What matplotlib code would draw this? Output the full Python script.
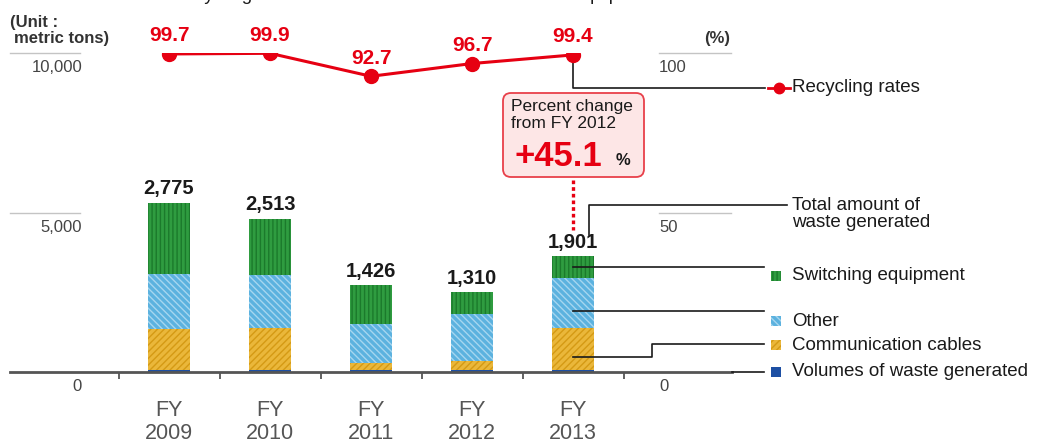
import matplotlib
matplotlib.use("Agg")
import matplotlib.pyplot as plt
from matplotlib.patches import FancyBboxPatch, Rectangle
from matplotlib.transforms import IdentityTransform

plt.rcParams['font.family'] = ['Liberation Sans', 'DejaVu Sans']
plt.rcParams['hatch.linewidth'] = 1.0

# ---- data -------------------------------------------------------------
years = ['2009', '2010', '2011', '2012', '2013']
volumes = [31, 31, 38, 38, 37]            # volumes of waste generated
cables = [682, 687, 112, 140, 678]        # communication cables
other = [899, 874, 641, 768, 826]         # other
switching = [1163, 921, 635, 364, 360]    # switching equipment
totals = [2775, 2513, 1426, 1310, 1901]   # total amount of waste generated (t)
rates = [99.7, 99.9, 92.7, 96.7, 99.4]    # recycling rates (%)
left_ticks = ['0', '5,000', '10,000']
right_ticks = ['0', '50', '100']
change_text = '+45.1'
title = 'Total amounts and recycling rates of removed telecommunications equipment'

# ---- figure layout ----------------------------------------------------
W, H = 1039, 443
fig = plt.figure(figsize=(W / 100, H / 100), dpi=100)
base_px, top_px = 372, 53
left_px, right_px = 10, 732
step = 101.0                 # pixels per category
x0_px = 169                  # first category centre
ax = fig.add_axes([left_px / W, (H - base_px) / H,
                   (right_px - left_px) / W, (base_px - top_px) / H])
ax2 = ax.twinx()

def X(px):
    return (px - x0_px) / step

def Y(py):
    return (base_px - py) / (base_px - top_px) * 100

ax.set_xlim(X(left_px), X(right_px))
YMAX = 5232
ax.set_ylim(0, YMAX)
ax2.set_ylim(0, 100)

def to_pct(t):
    return t * 100 / YMAX

RED = '#e60012'
INK = '#1a1a1a'
GREY = '#555555'

# heading running off the top edge
fig.text(20 / W, 1 - 0.5 / H, title, fontsize=13.5, color=INK,
         ha='left', va='baseline')

# ---- stacked bars -----------------------------------------------------
xs = list(range(len(years)))
bw = 0.42
styles = [
    (volumes, '#1d4fa3', '#1d4fa3', ''),
    (cables, '#eab73a', '#d49a14', '/////'),
    (other, '#5cb2df', '#a6d6ef', '\\\\\\\\\\'),
    (switching, '#2f9c40', '#1b7a2b', '||||'),
]
bottom = [0] * len(years)
for vals, fc, hc, hatch in styles:
    ax.bar(xs, vals, bw, bottom=bottom, color=fc, edgecolor=hc,
           linewidth=0, hatch=hatch, zorder=2)
    bottom = [b + v for b, v in zip(bottom, vals)]

for x, t in zip(xs, totals):
    ax.annotate(f'{t:,}', (x, t), xytext=(0, 6), textcoords='offset points',
                ha='center', va='baseline', fontsize=14.5, fontweight='bold',
                color=INK)

# ---- axes styling -----------------------------------------------------
for s in ['top', 'left', 'right']:
    ax.spines[s].set_visible(False)
    ax2.spines[s].set_visible(False)
ax2.spines['bottom'].set_visible(False)
ax.spines['bottom'].set_color(GREY)
ax.spines['bottom'].set_linewidth(2.0)
ax.set_yticks([])
ax2.set_yticks([])
ax.set_xticks([x - 0.5 for x in xs] + [xs[-1] + 0.5])
ax.set_xticklabels([])
ax.tick_params(axis='x', which='major', length=5, width=1.3, color=GREY,
               direction='out')
ax.set_xticks(xs, [f'FY\n{y}' for y in years], minor=True)
ax.tick_params(axis='x', which='minor', length=0, pad=20, labelsize=15.5,
               labelcolor=GREY)
for lab in ax.get_xticklabels(minor=True):
    lab.set_linespacing(1.15)

# value scale labels with short guide lines
for frac, ltxt, rtxt in zip([0, 50, 100], left_ticks, right_ticks):
    if frac > 0:
        ax2.plot([X(10), X(80)], [frac, frac], color='#c4c4c4', lw=1,
                 clip_on=False)
        ax2.plot([X(659), X(731)], [frac, frac], color='#c4c4c4', lw=1,
                 clip_on=False)
    ax2.annotate(ltxt, (X(82), frac), xytext=(0, -10.5),
                 textcoords='offset points', ha='right', va='center',
                 fontsize=12, color='#444444')
    ax2.annotate(rtxt, (X(659), frac), xytext=(0, -10.5),
                 textcoords='offset points', ha='left', va='center',
                 fontsize=12, color='#444444')

fig.text(10 / W, 1 - 22 / H, '(Unit :', fontsize=12, fontweight='bold',
         color='#333333', va='center', ha='left')
fig.text(14 / W, 1 - 38 / H, 'metric tons)', fontsize=12, fontweight='bold',
         color='#333333', va='center', ha='left')
fig.text(730 / W, 1 - 38 / H, '(%)', fontsize=12, fontweight='bold',
         color='#333333', va='center', ha='right')

# ---- recycling-rate line ---------------------------------------------
ax2.plot(xs, rates, color=RED, lw=2.2, marker='o', ms=10, zorder=5)
for x, r in zip(xs, rates):
    ax2.annotate(f'{r:.1f}', (x, r), xytext=(0, 9),
                 textcoords='offset points', ha='center', va='baseline',
                 fontsize=15, fontweight='bold', color=RED)

# ---- percent change call-out -----------------------------------------
pix = IdentityTransform()
box = FancyBboxPatch((503, H - 177), 141, 84,
                     boxstyle='round,pad=0,rounding_size=8',
                     facecolor='#fde6e6', edgecolor='#e8404a', lw=1.3,
                     transform=pix, zorder=6)
fig.add_artist(box)
fig.text(511 / W, 1 - 106 / H, 'Percent change', fontsize=12.5,
         color=INK, va='center', ha='left', zorder=7)
fig.text(511 / W, 1 - 123 / H, 'from FY 2012', fontsize=12.5,
         color=INK, va='center', ha='left', zorder=7)
fig.text(514 / W, 1 - 156 / H, change_text, fontsize=25,
         fontweight='bold', color=RED, va='center', ha='left', zorder=7)
fig.text(616 / W, 1 - 161 / H, '%', fontsize=12, fontweight='bold',
         color=INK, va='center', ha='left', zorder=7)
ax2.plot([xs[-1], xs[-1]], [Y(180), Y(230)], color=RED, lw=2.4,
         linestyle=(0, (1.1, 0.9)), solid_capstyle='butt', clip_on=False)

# ---- leader lines and legend -----------------------------------------
lk = dict(color=INK, lw=1.2, clip_on=False, zorder=4)
last = xs[-1]
# recycling rate
ax2.plot([last, last, X(765)], [rates[-1], Y(88), Y(88)], **lk)
ax2.plot([X(768), X(790)], [Y(88), Y(88)], color=RED, lw=2, clip_on=False)
ax2.plot([X(779)], [Y(88)], marker='o', ms=7.5, color=RED, clip_on=False)
# total amount
ax2.plot([X(589), X(589), X(787)], [Y(235), Y(205), Y(205)], **lk)
# segment leaders for the last bar
sw_mid = to_pct(volumes[-1] + cables[-1] + other[-1] + switching[-1] / 2)
ot_mid = to_pct(volumes[-1] + cables[-1] + other[-1] * 0.35)
cb_mid = to_pct(volumes[-1] + cables[-1] * 0.3)
ax2.plot([last, X(764)], [sw_mid, sw_mid], **lk)
ax2.plot([last, X(764)], [ot_mid, ot_mid], **lk)
ax2.plot([last, X(652), X(652), X(764)], [cb_mid, cb_mid, Y(344), Y(344)],
         **lk)
ax2.plot([X(right_px), X(764)], [0, 0], **lk)

legend_items = [
    ('Switching equipment', 276, '#2f9c40', '#1b7a2b', '||||'),
    ('Other', 321, '#5cb2df', '#a6d6ef', '\\\\\\\\\\'),
    ('Communication cables', 345, '#eab73a', '#d49a14', '/////'),
    ('Volumes of waste generated', 372, '#1d4fa3', '#1d4fa3', ''),
]
for label, py, fc, hc, hatch in legend_items:
    fig.add_artist(Rectangle((771, H - py - 5), 10, 10, facecolor=fc,
                             edgecolor=hc, lw=0, hatch=hatch,
                             transform=pix))
    fig.text(792 / W, 1 - py / H, label, fontsize=13.5, color=INK,
             va='center', ha='left')
fig.text(792 / W, 1 - 88 / H, 'Recycling rates', fontsize=13.5, color=INK,
         va='center', ha='left')
fig.text(792 / W, 1 - 214 / H, 'Total amount of\nwaste generated',
         fontsize=13.5, color=INK, va='center', ha='left', linespacing=0.95)

fig.savefig('out.png', dpi=100, facecolor='white')
